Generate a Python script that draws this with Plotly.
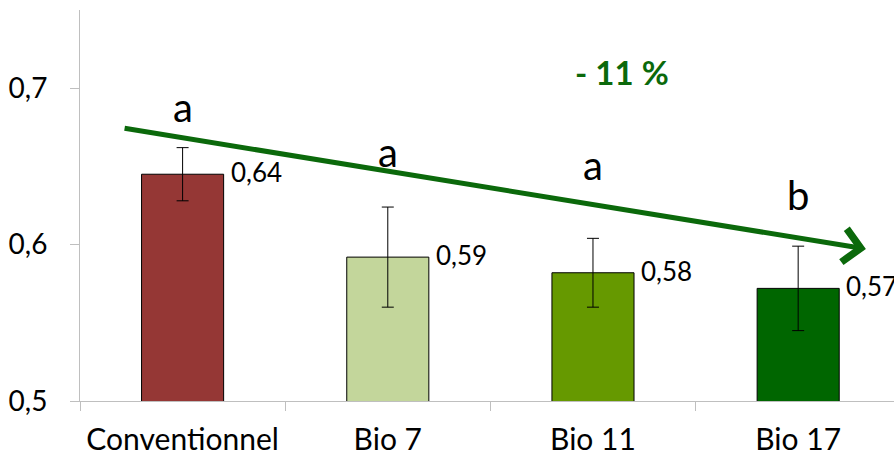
import plotly.graph_objects as go

# Data
categories = ["Conventionnel", "Bio 7", "Bio 11", "Bio 17"]
values = [0.645, 0.592, 0.582, 0.572]
errors = [0.017, 0.032, 0.022, 0.027]
value_labels = ["0,64", "0,59", "0,58", "0,57"]
letters = ["a", "a", "a", "b"]
letter_y = [0.688, 0.659, 0.651, 0.632]
bar_colors = ["#953735", "#C3D69B", "#669900", "#006600"]

# Trend arrow (tail -> head) and label
arrow_tail = (-0.29, 0.6745)
arrow_head = (3.33, 0.5972)
trend_label = "- 11 %"
trend_pos = (2.14, 0.7105)

FONT = "Lato"
GREEN = "#0B690B"
AXIS_GREY = "#BFBFBF"

x_idx = list(range(len(categories)))

fig = go.Figure()
fig.add_trace(go.Bar(
    x=x_idx,
    y=values,
    width=0.4,
    marker=dict(color=bar_colors, line=dict(color="#000000", width=1)),
    error_y=dict(type="data", array=errors, visible=True,
                 color="#000000", thickness=1, width=6),
    hoverinfo="skip",
))

annotations = []
for i, (v, lab) in enumerate(zip(values, value_labels)):
    annotations.append(dict(
        x=i + 0.2, y=v, xref="x", yref="y", text=lab, showarrow=False,
        xanchor="left", yanchor="middle", xshift=5, yshift=2,
        font=dict(family=FONT, size=26, color="#000000"),
    ))
for i, (t, ly) in enumerate(zip(letters, letter_y)):
    annotations.append(dict(
        x=i, y=ly, xref="x", yref="y", text=t, showarrow=False,
        xanchor="center", yanchor="middle",
        font=dict(family=FONT, size=40, color="#000000"),
    ))
annotations.append(dict(
    x=arrow_head[0], y=arrow_head[1], xref="x", yref="y",
    ax=arrow_tail[0], ay=arrow_tail[1], axref="x", ayref="y",
    text="", showarrow=True, arrowhead=4, arrowsize=1.3,
    arrowwidth=5, arrowcolor=GREEN,
))
annotations.append(dict(
    x=trend_pos[0], y=trend_pos[1], xref="x", yref="y", text="<b>" + trend_label + "</b>",
    showarrow=False, xanchor="center", yanchor="middle",
    font=dict(family=FONT, size=33, color=GREEN),
))

fig.update_layout(
    width=894, height=458,
    margin=dict(l=80, r=0, t=10, b=57),
    paper_bgcolor="white", plot_bgcolor="white",
    showlegend=False,
    separators=", ",
    font=dict(family=FONT, color="#000000"),
    annotations=annotations,
    xaxis=dict(
        range=[-0.5, 3.467],
        tickvals=x_idx, ticktext=categories,
        ticks="", showgrid=False, zeroline=False,
        showline=True, linecolor=AXIS_GREY, linewidth=1,
        tickfont=dict(family=FONT, size=30, color="#000000"),
        ticklabelstandoff=12,
        minor=dict(tickvals=[-0.5, 0.5, 1.5, 2.5, 3.5], ticks="outside",
                   ticklen=9, tickcolor=AXIS_GREY, tickwidth=1, showgrid=False),
        fixedrange=True,
    ),
    yaxis=dict(
        range=[0.5, 0.75],
        tickvals=[0.5, 0.6, 0.7], tickformat=".1f",
        ticks="outside", ticklen=9, tickcolor=AXIS_GREY, tickwidth=1,
        showgrid=False, zeroline=False,
        showline=True, linecolor=AXIS_GREY, linewidth=1,
        tickfont=dict(family=FONT, size=28, color="#000000"),
        ticklabelstandoff=17,
        fixedrange=True,
    ),
)

fig.write_html("out.html")
